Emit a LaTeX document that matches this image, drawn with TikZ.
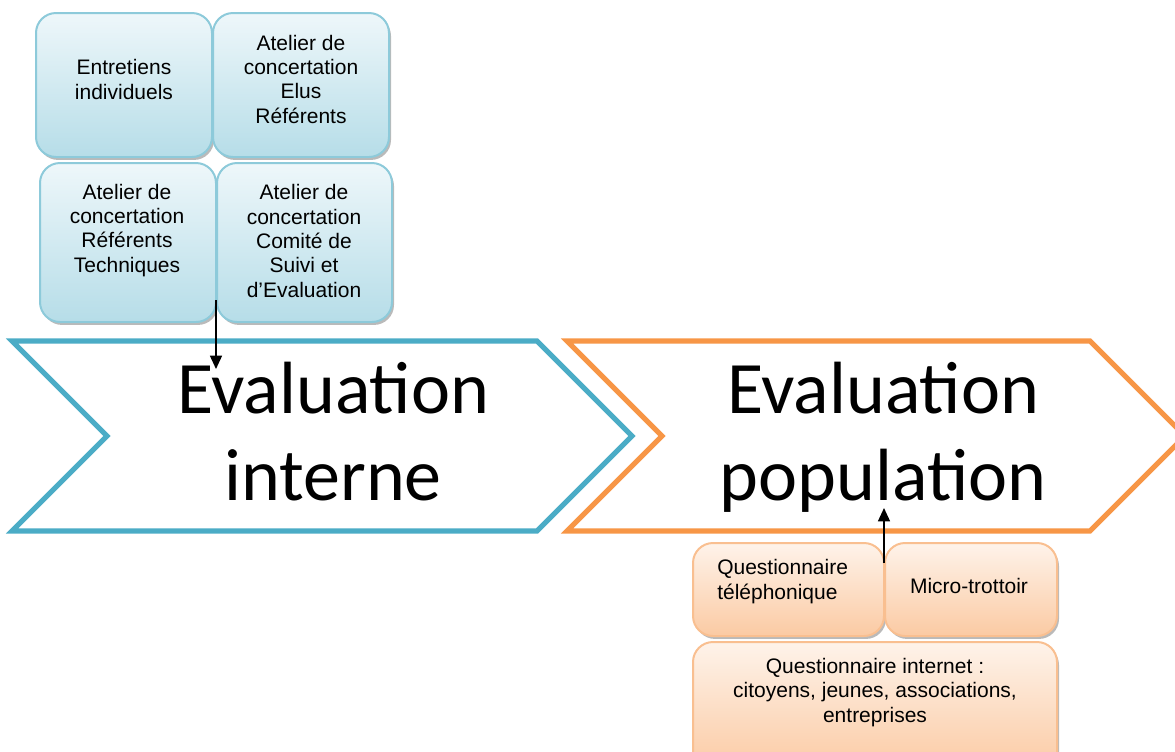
\documentclass[tikz,border=0pt]{standalone}
\usepackage{fontspec}
\setmainfont{Liberation Sans}
\newfontfamily\chevronfont{Carlito}
\usetikzlibrary{shadows,arrows.meta}

\definecolor{aqualine}{HTML}{4BACC6}
\definecolor{orangeline}{HTML}{F79646}
\definecolor{aquaedge}{HTML}{8DCADA}
\definecolor{aquatop}{HTML}{EEF7FA}
\definecolor{aquabot}{HTML}{B6DDE8}
\definecolor{orangeedge}{HTML}{F9BF90}
\definecolor{orangetop}{HTML}{FEF3EA}
\definecolor{orangebot}{HTML}{FBCAA3}

\tikzset{
  card/.style={rounded corners=15pt, line width=1.5pt, inner sep=0pt, outer sep=0pt,
    drop shadow={shadow xshift=1.5pt, shadow yshift=-2.2pt, fill=black!60, opacity=.45}},
  aquacard/.style={card, draw=aquaedge, top color=aquatop, bottom color=aquabot},
  orangecard/.style={card, draw=orangeedge, top color=orangetop, bottom color=orangebot},
  cardtext/.style={align=center, font=\fontsize{15.75}{18.2}\selectfont, anchor=base, inner sep=0pt},
  chevron/.style={line width=3.8pt, line join=miter, fill=white},
  bigtext/.style={font=\chevronfont\fontsize{55.5}{65}\selectfont, anchor=base, inner sep=0pt},
  link/.style={line width=1.1pt, -{Triangle[length=10pt,width=9pt]}}
}

\begin{document}
\begin{tikzpicture}[x=0.75pt, y=-0.75pt]

\useasboundingbox (0,0) rectangle (1175,751);
\clip (0,0) rectangle (1175,751);

% the two stages
\draw [chevron, draw=aqualine] (12,341) -- (537,341) -- (632,436) -- (537,531) -- (12,531) -- (107,436) -- cycle ;
\draw [chevron, draw=orangeline] (567,341) -- (1090,341) -- (1185,436) -- (1090,531) -- (567,531) -- (662,436) -- cycle ;

\node [bigtext] (intA) at (333,413) {Evaluation} ;
\node [bigtext] (intB) at (333,500) {interne} ;
\node [bigtext] (popA) at (883,413) {Evaluation} ;
\node [bigtext] (popB) at (883,500) {population} ;

% internal tools
\node [aquacard, minimum width=132pt, minimum height=108pt] (ent) at (124,85) {} ;
\node [aquacard, minimum width=132pt, minimum height=108pt] (elu) at (301,85) {} ;
\node [aquacard, minimum width=132pt, minimum height=119.25pt] (ref) at (128,242.5) {} ;
\node [aquacard, minimum width=131.25pt, minimum height=119.25pt] (cs) at (304.5,242.5) {} ;

% text anchored on the last line's baseline
\node [cardtext] (entT) at (124,99) {Entretiens\\individuels} ;
\node [cardtext] (eluT) at (301,123) {Atelier de\\concertation\\Elus\\Référents} ;
\node [cardtext] (refT) at (127,272) {Atelier de\\concertation\\Référents\\Techniques} ;
\node [cardtext] (csT) at (304,297) {Atelier de\\concertation\\Comité de\\Suivi et\\d’Evaluation} ;

% population tools
\node [orangecard, minimum width=143.25pt, minimum height=69.75pt] (tel) at (788.5,589.5) {} ;
\node [orangecard, minimum width=129pt, minimum height=69.75pt] (micro) at (971,589.5) {} ;
\node [orangecard, minimum width=273pt, minimum height=97.5pt] (web) at (875,707) {} ;

\node [cardtext, align=left, anchor=base west] (telT) at (717,599) {Questionnaire\\téléphonique} ;
\node [cardtext] (microT) at (969,593) {Micro-trottoir} ;
\node [cardtext] (webT) at (875,722) {Questionnaire internet :\\citoyens, jeunes, associations,\\entreprises} ;

% arrows into the stages
\coordinate (intIn) at (216,300) ;
\coordinate (intTip) at (216,369) ;
\coordinate (popIn) at (884,563) ;
\coordinate (popTip) at (884,508) ;
\draw [link] (intIn) -- (intTip) ;
\draw [link] (popIn) -- (popTip) ;

\end{tikzpicture}
\end{document}
